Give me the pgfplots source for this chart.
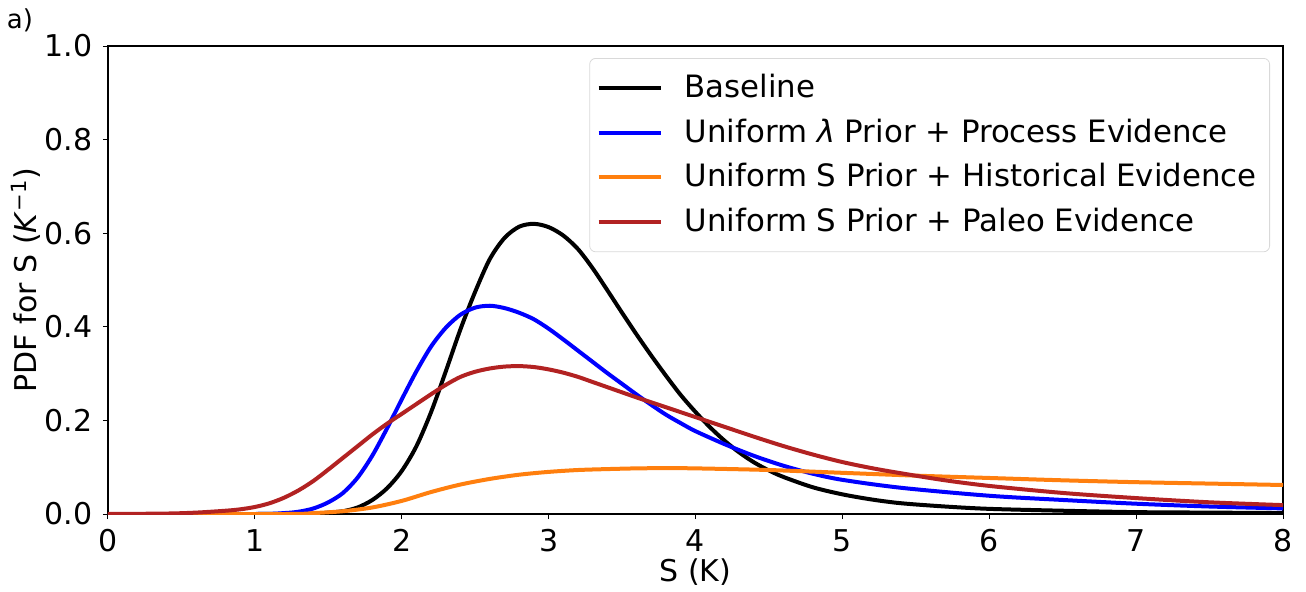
\documentclass[border=0pt]{standalone}
\usepackage{fontspec}
\setmainfont{DejaVu Sans}
\usepackage{pgfplots}
\pgfplotsset{compat=1.18}
\definecolor{cbase}{HTML}{000000}
\definecolor{cproc}{HTML}{0000FF}
\definecolor{chist}{HTML}{FF7F0E}
\definecolor{cpaleo}{HTML}{B22222}

\begin{document}
\fontsize{15}{18}\selectfont
\begin{tikzpicture}
\begin{axis}[name=ax, scale only axis, width=587.5pt, height=234pt,
  xmin=0, xmax=8, ymin=0, ymax=1,
  xtick={0,1,...,8}, ytick={0,0.2,0.4,0.6,0.8,1.0},
  yticklabel style={/pgf/number format/.cd, fixed, fixed zerofill, precision=1},
  /pgf/number format/assume math mode=true,
  tick align=outside, tick pos=left, major tick length=2.5pt,
  tick style={black, line width=0.5pt}, axis line style={line width=0.6pt},
  ticklabel style={font=\fontsize{15}{18}\selectfont},
  every axis x label/.style={at={(axis description cs:0.5,-0.124)}, anchor=center},
  every axis y label/.style={at={(axis description cs:-0.07,0.5)}, rotate=90, anchor=center},
  label style={font=\fontsize{15}{18}\selectfont},
  xlabel={S (K)}, ylabel={PDF for S (\textit{K}\textsuperscript{−1})},
  every axis plot/.append style={line width=2pt, smooth},
  legend cell align=left,
  legend image code/.code={\draw[#1] (0pt,0pt) -- (31pt,0pt);},
  legend style={at={(1,1)}, anchor=north east, xshift=-6.5pt, yshift=-6pt,
    draw=black!15, rounded corners=3pt, fill=white, font=\fontsize{15.4}{18.5}\selectfont,
    row sep=4.3pt, column sep=8pt, inner xsep=3.5pt, inner ysep=6pt,
    nodes={inner xsep=3pt}},
]
\addplot[cbase] coordinates {(0,0) (1.0,0) (1.4,0.001) (1.5,0.003) (1.6,0.006) (1.7,0.014) (1.8,0.03) (1.9,0.055) (2.0,0.092) (2.1,0.145) (2.2,0.218) (2.3,0.305) (2.4,0.395) (2.5,0.475) (2.6,0.545) (2.7,0.59) (2.8,0.614) (2.9,0.62) (3.0,0.613) (3.1,0.595) (3.2,0.566) (3.3,0.525) (3.4,0.478) (3.5,0.43) (3.6,0.383) (3.7,0.338) (3.8,0.295) (3.9,0.254) (4.0,0.218) (4.1,0.185) (4.2,0.156) (4.3,0.131) (4.4,0.11) (4.5,0.093) (4.6,0.079) (4.8,0.057) (5.0,0.042) (5.2,0.031) (5.4,0.023) (5.7,0.016) (6.0,0.011) (6.5,0.007) (7.0,0.004) (7.5,0.003) (8.0,0.002)};
\addlegendentry{Baseline}
\addplot[cproc] coordinates {(0,0) (1.0,0) (1.2,0.002) (1.3,0.005) (1.4,0.012) (1.5,0.025) (1.6,0.045) (1.7,0.078) (1.8,0.125) (1.9,0.183) (2.0,0.245) (2.1,0.305) (2.2,0.358) (2.3,0.398) (2.4,0.426) (2.5,0.441) (2.6,0.445) (2.7,0.44) (2.8,0.43) (2.9,0.416) (3.0,0.396) (3.1,0.373) (3.2,0.349) (3.3,0.325) (3.4,0.301) (3.5,0.278) (3.6,0.255) (3.7,0.233) (3.8,0.212) (3.9,0.194) (4.0,0.177) (4.2,0.149) (4.4,0.124) (4.6,0.103) (4.8,0.086) (5.0,0.073) (5.4,0.056) (6.0,0.039) (6.5,0.03) (7.0,0.022) (7.5,0.016) (8.0,0.012)};
\addlegendentry{Uniform \textit{λ} Prior + Process Evidence}
\addplot[chist] coordinates {(0,0) (1.2,0) (1.4,0.002) (1.6,0.006) (1.8,0.014) (2.0,0.028) (2.2,0.047) (2.4,0.063) (2.6,0.075) (2.8,0.084) (3.0,0.09) (3.2,0.094) (3.4,0.096) (3.6,0.0975) (3.8,0.098) (4.0,0.0975) (4.5,0.094) (5.0,0.088) (5.5,0.082) (6.0,0.077) (6.5,0.072) (7.0,0.068) (7.5,0.065) (8.0,0.062)};
\addlegendentry{Uniform S Prior + Historical Evidence}
\addplot[cpaleo] coordinates {(0,0) (0.4,0.001) (0.6,0.003) (0.8,0.007) (0.9,0.01) (1.0,0.015) (1.1,0.023) (1.2,0.035) (1.3,0.051) (1.4,0.071) (1.5,0.095) (1.6,0.12) (1.7,0.145) (1.8,0.17) (1.9,0.193) (2.0,0.214) (2.1,0.235) (2.2,0.256) (2.3,0.276) (2.4,0.293) (2.5,0.304) (2.6,0.311) (2.7,0.315) (2.8,0.316) (2.9,0.314) (3.0,0.309) (3.1,0.302) (3.2,0.293) (3.3,0.282) (3.4,0.271) (3.6,0.249) (3.8,0.228) (4.0,0.207) (4.2,0.186) (4.4,0.165) (4.6,0.145) (4.8,0.127) (5.0,0.111) (5.2,0.098) (5.4,0.087) (5.7,0.072) (6.0,0.06) (6.5,0.045) (7.0,0.034) (7.5,0.025) (8.0,0.019)};
\addlegendentry{Uniform S Prior + Paleo Evidence}
\end{axis}
\node[font=\fontsize{13}{15}\selectfont] at ([shift={(-44pt,13pt)}]ax.north west) {a)};
\pgfresetboundingbox
\path[use as bounding box] ([shift={(-54pt,-38.5pt)}]ax.south west) rectangle ([shift={(11.5pt,23pt)}]ax.north east);
\end{tikzpicture}
\end{document}
